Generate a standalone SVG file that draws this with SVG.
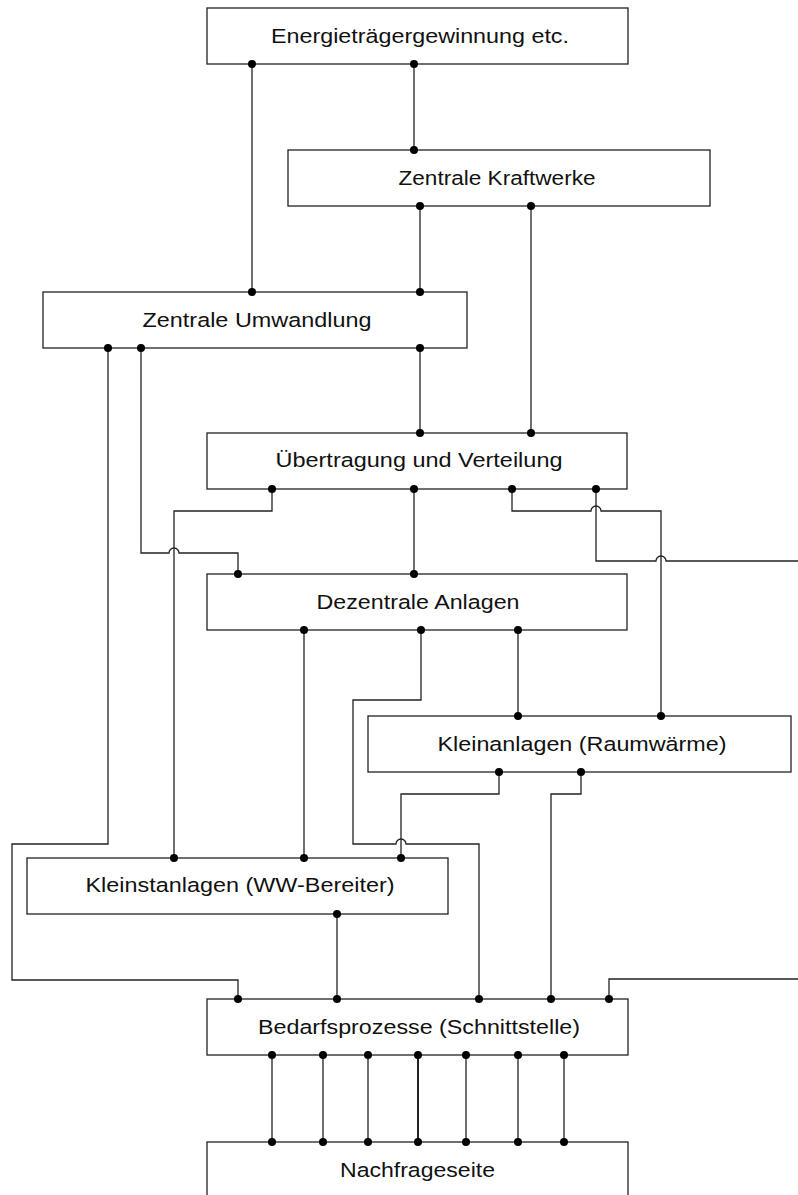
<svg xmlns="http://www.w3.org/2000/svg" width="798" height="1195" viewBox="0 0 798 1195">
<style>
.box{fill:#fff;stroke:#222;stroke-width:1.3}
.lbl{font-family:"Liberation Sans",Arial,sans-serif;font-size:20.5px;fill:#111;text-anchor:middle}
.c{fill:none;stroke:#222;stroke-width:1.3}
.d{fill:#000}
</style>
<rect width="798" height="1195" fill="#fff"/>
<g id="connectors">
<path class="c" d="M252,64V292"/>
<path class="c" d="M414,64V150"/>
<path class="c" d="M420,206V292"/>
<path class="c" d="M531,206V433"/>
<path class="c" d="M420,348V433"/>
<path class="c" d="M108,348V844H12V980H238V999"/>
<path class="c" d="M141,348V553H169A5,5 0 0 1 179,553H238V574"/>
<path class="c" d="M272,489V511H174V858"/>
<path class="c" d="M414,489V574"/>
<path class="c" d="M512,489V511H591A5,5 0 0 1 601,511H661V716"/>
<path class="c" d="M596,489V561H656A5,5 0 0 1 666,561H798"/>
<path class="c" d="M798,979H609V999"/>
<path class="c" d="M304,630V858"/>
<path class="c" d="M421,630V700H353V844H396A5,5 0 0 1 406,844H479V999"/>
<path class="c" d="M518,630V716"/>
<path class="c" d="M499,772V794H401V858"/>
<path class="c" d="M581,772V794H551V999"/>
<path class="c" d="M337,914V999"/>
<path class="c" d="M272,1055V1142M323,1055V1142M368,1055V1142M466,1055V1142M518,1055V1142M564,1055V1142"/>
<path class="c" d="M418,1055V1142" style="stroke-width:2"/>
</g>
<g id="n1"><rect class="box" x="207" y="8" width="421" height="56"/><text class="lbl" x="420" y="43" textLength="298" lengthAdjust="spacingAndGlyphs">Energieträgergewinnung etc.</text></g>
<g id="n2"><rect class="box" x="288" y="150" width="422" height="56"/><text class="lbl" x="497" y="185" textLength="197" lengthAdjust="spacingAndGlyphs">Zentrale Kraftwerke</text></g>
<g id="n3"><rect class="box" x="43" y="292" width="424" height="56"/><text class="lbl" x="257" y="327" textLength="229" lengthAdjust="spacingAndGlyphs">Zentrale Umwandlung</text></g>
<g id="n4"><rect class="box" x="207" y="433" width="420" height="56"/><text class="lbl" x="419" y="467" textLength="287" lengthAdjust="spacingAndGlyphs">Übertragung und Verteilung</text></g>
<g id="n5"><rect class="box" x="207" y="574" width="420" height="56"/><text class="lbl" x="418" y="609" textLength="203" lengthAdjust="spacingAndGlyphs">Dezentrale Anlagen</text></g>
<g id="n6"><rect class="box" x="368" y="716" width="423" height="56"/><text class="lbl" x="582" y="751" textLength="289" lengthAdjust="spacingAndGlyphs">Kleinanlagen (Raumwärme)</text></g>
<g id="n7"><rect class="box" x="27" y="858" width="421" height="56"/><text class="lbl" x="240" y="892" textLength="309" lengthAdjust="spacingAndGlyphs">Kleinstanlagen (WW-Bereiter)</text></g>
<g id="n8"><rect class="box" x="207" y="999" width="421" height="56"/><text class="lbl" x="419" y="1034" textLength="322" lengthAdjust="spacingAndGlyphs">Bedarfsprozesse (Schnittstelle)</text></g>
<g id="n9"><rect class="box" x="207" y="1142" width="421" height="62"/><text class="lbl" x="417.5" y="1177" textLength="155" lengthAdjust="spacingAndGlyphs">Nachfrageseite</text></g>
<g id="junctions" class="d">
<circle cx="252" cy="64" r="4"/><circle cx="414" cy="64" r="4"/>
<circle cx="414" cy="150" r="4"/><circle cx="420" cy="206" r="4"/><circle cx="531" cy="206" r="4"/>
<circle cx="252" cy="292" r="4"/><circle cx="420" cy="292" r="4"/>
<circle cx="108" cy="348" r="4"/><circle cx="141" cy="348" r="4"/><circle cx="420" cy="348" r="4"/>
<circle cx="420" cy="433" r="4"/><circle cx="531" cy="433" r="4"/>
<circle cx="272" cy="489" r="4"/><circle cx="414" cy="489" r="4"/><circle cx="512" cy="489" r="4"/><circle cx="596" cy="489" r="4"/>
<circle cx="238" cy="574" r="4"/><circle cx="414" cy="574" r="4"/>
<circle cx="304" cy="630" r="4"/><circle cx="421" cy="630" r="4"/><circle cx="518" cy="630" r="4"/>
<circle cx="518" cy="716" r="4"/><circle cx="661" cy="716" r="4"/>
<circle cx="499" cy="772" r="4"/><circle cx="581" cy="772" r="4"/>
<circle cx="174" cy="858" r="4"/><circle cx="304" cy="858" r="4"/><circle cx="401" cy="858" r="4"/>
<circle cx="337" cy="914" r="4"/>
<circle cx="238" cy="999" r="4"/><circle cx="337" cy="999" r="4"/><circle cx="479" cy="999" r="4"/><circle cx="551" cy="999" r="4"/><circle cx="609" cy="999" r="4"/>
<circle cx="272" cy="1055" r="4"/><circle cx="323" cy="1055" r="4"/><circle cx="368" cy="1055" r="4"/><circle cx="418" cy="1055" r="4"/><circle cx="466" cy="1055" r="4"/><circle cx="518" cy="1055" r="4"/><circle cx="564" cy="1055" r="4"/>
<circle cx="272" cy="1142" r="4"/><circle cx="323" cy="1142" r="4"/><circle cx="368" cy="1142" r="4"/><circle cx="418" cy="1142" r="4"/><circle cx="466" cy="1142" r="4"/><circle cx="518" cy="1142" r="4"/><circle cx="564" cy="1142" r="4"/>
</g>
</svg>
